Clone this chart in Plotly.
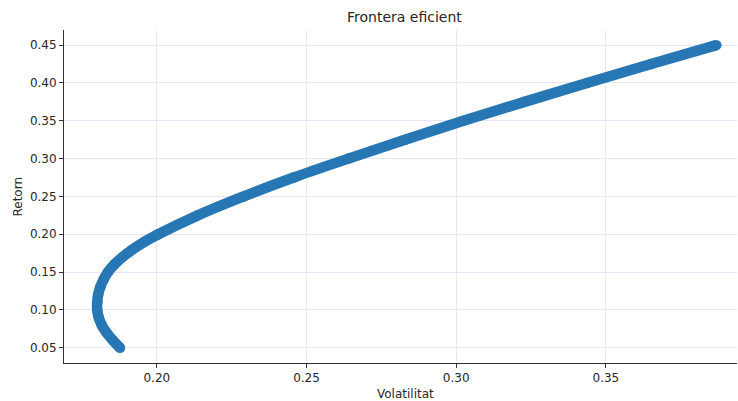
import plotly.graph_objects as go

# Efficient frontier points
retorn = [0.050, 0.060, 0.070, 0.080, 0.090, 0.100, 0.110, 0.120, 0.130, 0.140,
          0.150, 0.160, 0.175, 0.190, 0.200, 0.225, 0.250, 0.275, 0.300, 0.325,
          0.350, 0.375, 0.400, 0.425, 0.450]
volatilitat = [0.1877, 0.1853, 0.1832, 0.1816, 0.1806, 0.1801, 0.1801, 0.1804, 0.1811, 0.1822,
               0.1837, 0.1858, 0.1902, 0.1959, 0.2005, 0.2137, 0.2290, 0.2457, 0.2640, 0.2829,
               0.3024, 0.3228, 0.3437, 0.3651, 0.3869]

x_ticks = [0.20, 0.25, 0.30, 0.35]
x_ticklabels = ["0.20", "0.25", "0.30", "0.35"]
y_ticks = [0.05, 0.10, 0.15, 0.20, 0.25, 0.30, 0.35, 0.40, 0.45]
y_ticklabels = ["0.05", "0.10", "0.15", "0.20", "0.25", "0.30", "0.35", "0.40", "0.45"]

blue = "#2677b4"
grid = "#e6e6fa"
axis_col = "#333333"
text_col = "#262626"
font = "DejaVu Sans"

fig = go.Figure()
fig.add_trace(go.Scatter(
    x=volatilitat, y=retorn, mode="lines+markers",
    line=dict(color=blue, width=10.5, shape="spline", smoothing=1.0),
    marker=dict(color=blue, size=10.5),
    showlegend=False, hoverinfo="skip",
))

fig.update_layout(
    width=738, height=401,
    margin=dict(l=64, r=1, t=30, b=38),
    paper_bgcolor="white", plot_bgcolor="white",
    font=dict(family=font, size=12, color=text_col),
    title=dict(text="Frontera eficient", x=0.548, xanchor="center", xref="container",
               y=0.9576, yanchor="middle", yref="container",
               font=dict(family=font, size=14, color=text_col)),
    xaxis=dict(
        range=[0.169, 0.3938], tickvals=x_ticks, ticktext=x_ticklabels,
        showgrid=True, gridcolor=grid, gridwidth=1, zeroline=False,
        showline=True, linecolor=axis_col, linewidth=1,
        ticks="outside", ticklen=4, tickcolor=axis_col, automargin=False,
        tickfont=dict(family=font, size=12, color=text_col),
    ),
    yaxis=dict(
        range=[0.0298, 0.470], tickvals=y_ticks, ticktext=y_ticklabels,
        showgrid=True, gridcolor=grid, gridwidth=1, zeroline=False,
        showline=True, linecolor=axis_col, linewidth=1,
        ticks="outside", ticklen=4, tickcolor=axis_col, automargin=False,
        tickfont=dict(family=font, size=12, color=text_col),
    ),
    annotations=[
        dict(text="Volatilitat", xref="paper", yref="paper", x=0.5067, y=-0.0931,
             xanchor="center", yanchor="middle", showarrow=False,
             font=dict(family=font, size=12, color=text_col)),
        dict(text="Retorn", xref="paper", yref="paper", x=-0.0698, y=0.5,
             xanchor="center", yanchor="middle", showarrow=False, textangle=-90,
             font=dict(family=font, size=12, color=text_col)),
    ],
)

fig.write_html("out.html", config={"displayModeBar": False},
               post_script="document.body.style.margin='0';document.body.style.overflow='hidden';")
